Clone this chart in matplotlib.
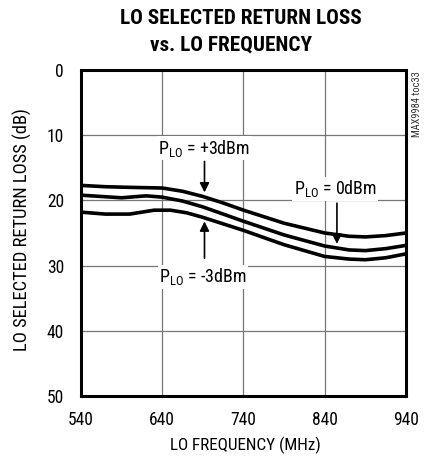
import matplotlib
matplotlib.use("Agg")
import matplotlib.pyplot as plt
from matplotlib import font_manager

names = {f.name for f in font_manager.fontManager.ttflist}
FONT = "Liberation Sans"
for cand in ["Liberation Sans Narrow", "Roboto Condensed", "Open Sans Condensed"]:
    if cand in names:
        FONT = cand
        break
plt.rcParams['font.family'] = [FONT, 'DejaVu Sans']

freq_p3 = [540, 570, 600, 640, 665, 690, 715, 740, 790, 840, 870, 890, 915, 940]
rl_p3 = [17.7, 17.9, 18.0, 18.1, 18.6, 19.4, 20.4, 21.5, 23.5, 25.0, 25.5, 25.6, 25.4, 25.0]

freq_0 = [540, 565, 590, 620, 640, 665, 690, 715, 740, 790, 840, 870, 890, 915, 940]
rl_0 = [19.2, 19.4, 19.6, 19.3, 19.5, 20.1, 21.0, 22.1, 23.2, 25.3, 27.0, 27.6, 27.7, 27.4, 26.9]

freq_m3 = [540, 570, 600, 630, 650, 670, 690, 715, 740, 790, 840, 870, 890, 915, 940]
rl_m3 = [21.8, 22.1, 22.1, 21.5, 21.5, 21.9, 22.6, 23.6, 24.6, 26.8, 28.6, 29.0, 29.1, 28.8, 28.2]

xticks = [540, 640, 740, 840, 940]
yticks = [0, 10, 20, 30, 40, 50]

W, H = 438, 458
fig = plt.figure(figsize=(W/100, H/100), dpi=100)
ax = fig.add_axes([81/W, 1-396/H, 325/W, 326/H])
renderer = fig.canvas.get_renderer()

def fit(t, target, dim='w'):
    for _ in range(3):
        bb = t.get_window_extent(renderer)
        cur = bb.width if dim == 'w' else bb.height
        if cur > 0:
            t.set_fontsize(t.get_fontsize() * target / cur)

for f, r in [(freq_p3, rl_p3), (freq_0, rl_0), (freq_m3, rl_m3)]:
    ax.plot(f, r, color='black', lw=2.6, solid_capstyle='butt')

ax.set_xlim(540, 940)
ax.set_ylim(50, 0)
ax.set_xticks(xticks)
ax.set_yticks(yticks)
ax.set_xticklabels([str(v) for v in xticks])
ax.set_yticklabels([str(v) for v in yticks])
ax.tick_params(length=0, labelsize=12)
ax.grid(True, color='#777777', lw=0.9)
ax.set_axisbelow(True)
for s in ax.spines.values():
    s.set_linewidth(2.2)

probe = fig.text(0, 0, "540", fontsize=12)
fit(probe, 26, 'w')
tick_fs = probe.get_fontsize()
probe.remove()
ax.tick_params(labelsize=tick_fs)
ax.tick_params(axis='x', pad=15 * 72 / 100)
ax.tick_params(axis='y', pad=17 * 72 / 100)

xl = fig.text(245/W, 1-445/H, "LO FREQUENCY (MHz)", ha='center', va='center', fontsize=12)
fit(xl, 150, 'w')
yl = fig.text(22/W, 1-230/H, "LO SELECTED RETURN LOSS (dB)", ha='center', va='center',
              rotation=90, fontsize=12)
fit(yl, 242, 'h')

t1 = fig.text(241/W, 1-18/H, "LO SELECTED RETURN LOSS", ha='center', va='center',
              fontsize=15, fontweight='heavy')
fit(t1, 242, 'w')
t2 = fig.text(231/W, 1-45/H, "vs. LO FREQUENCY", ha='center', va='center',
              fontsize=t1.get_fontsize(), fontweight='heavy')
mk = fig.text(417/W, 1-104/H, "MAX9984 toc33", rotation=90, ha='center', va='center',
              fontsize=7, color='#333333')
fit(mk, 65, 'h')

bbox = dict(facecolor='white', edgecolor='none', pad=1)
a1 = ax.text(692, 12.0, r"P$_{\mathregular{LO}}$ = +3dBm", ha='center', va='center', fontsize=12, bbox=bbox)
fit(a1, 92, 'w')
afs = a1.get_fontsize()
ax.annotate("", xy=(692, 19.2), xytext=(692, 13.6),
            arrowprops=dict(arrowstyle='-|>', color='black', lw=1.2, mutation_scale=14))
ax.text(690, 31.7, r"P$_{\mathregular{LO}}$ = -3dBm", ha='center', va='center', fontsize=afs, bbox=bbox)
ax.annotate("", xy=(692, 22.8), xytext=(692, 29.3),
            arrowprops=dict(arrowstyle='-|>', color='black', lw=1.2, mutation_scale=14))
ax.text(853, 18.2, r"P$_{\mathregular{LO}}$ = 0dBm", ha='center', va='center', fontsize=afs, bbox=bbox)
ax.annotate("", xy=(855, 27.1), xytext=(855, 20.0),
            arrowprops=dict(arrowstyle='-|>', color='black', lw=1.2, mutation_scale=14))

fig.savefig("out.png", dpi=100)
